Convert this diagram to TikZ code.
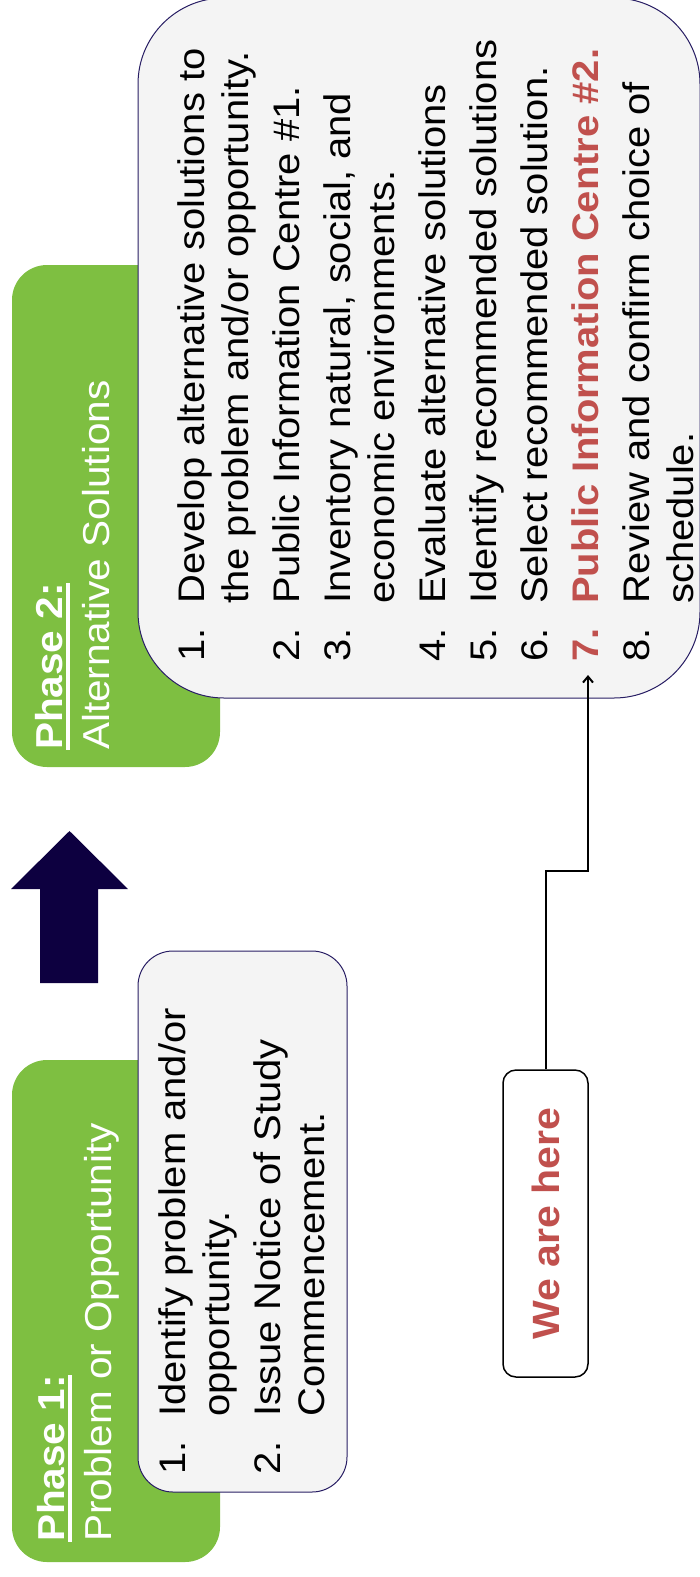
\documentclass[tikz,border=0pt]{standalone}
\usepackage{fontspec}
\setmainfont{Liberation Sans}[FakeStretch=1.08]
\usetikzlibrary{arrows.meta}
\definecolor{phasegreen}{RGB}{126,191,65}
\definecolor{boxline}{RGB}{40,30,100}
\definecolor{boxfill}{RGB}{244,244,244}
\definecolor{advnavy}{RGB}{13,0,64}
\definecolor{nowred}{RGB}{192,80,77}
\newlength{\itmw}\setlength{\itmw}{58pt}
\newcommand{\itm}[2]{\makebox[\itmw][l]{#1}#2}
\newcommand{\cont}[1]{\hspace*{\itmw}#1}
\newsavebox{\phbox}
\newcommand{\phaseul}[1]{\sbox{\phbox}{\bfseries #1}\rlap{\rule[-7.5pt]{\wd\phbox}{4pt}}\usebox{\phbox}}

\begin{document}
\begin{tikzpicture}[x=1pt, y=-1pt,
        phasebox/.style={fill=phasegreen, rounded corners=35pt, minimum width=208pt, minimum height=502pt, inner sep=0pt},
        listbox/.style={draw=boxline, line width=1pt, fill=boxfill, inner sep=0pt},
        phasetext/.style={rotate=90, anchor=north west, inner sep=0pt, align=left, text=white, font=\fontsize{37.5}{47}\selectfont},
        listtext/.style={rotate=90, anchor=north west, inner sep=0pt, align=left, font=\fontsize{37}{44}\selectfont},
        herebox/.style={draw, line width=1.5pt, fill=white, rounded corners=13pt, rotate=90, minimum width=307pt, minimum height=85pt, inner sep=0pt, text=nowred, font=\bfseries\fontsize{38}{44}\selectfont},
        pointer/.style={-{Straight Barb[length=6pt,width=10pt]}, line width=2pt}
    ]
        \useasboundingbox (0,0) rectangle (699,1577);

        % phase headers
        \node[phasebox] (ph1) at (116,1311) {};
        \node[phasebox] (ph2) at (116,516) {};

        % step lists
        \node[listbox, rounded corners=35pt, minimum width=209pt, minimum height=541pt] (list1) at (242.5,1221.5) {};
        \node[listbox, rounded corners=86pt, minimum width=562pt, minimum height=700pt] (list2) at (419,348) {};

        \node[phasetext] (ph1txt) at (37,1542) {\phaseul{Phase 1:}\\Problem or Opportunity};
        \node[phasetext] (ph2txt) at (35,750) {\phaseul{Phase 2:}\\Alternative Solutions};

        \node[listtext] (list1txt) at (158,1475) {
            \itm{1.}{Identify problem and/or}\\
            \cont{opportunity.}\\[7pt]
            \itm{2.}{Issue Notice of Study}\\
            \cont{Commencement.}
        };

        \node[listtext] (list2txt) at (177,662) {
            \itm{1.}{Develop alternative solutions to}\\
            \cont{the problem and/or opportunity.}\\[7pt]
            \itm{2.}{Public Information Centre \#1.}\\[7pt]
            \itm{3.}{Inventory natural, social, and}\\
            \cont{economic environments.}\\[7pt]
            \itm{4.}{Evaluate alternative solutions}\\[7pt]
            \itm{5.}{Identify recommended solutions}\\[7pt]
            \itm{6.}{Select recommended solution.}\\[7pt]
            {\color{nowred}\bfseries\itm{7.}{Public Information Centre \#2.}}\\[7pt]
            \itm{8.}{Review and confirm choice of}\\
            \cont{schedule.}
        };

        % block arrow between phases
        \fill[advnavy] (40,983) -- (40,889) -- (11,889) -- (69.5,831) -- (128,889) -- (98,889) -- (98,983) -- cycle;

        % current position marker
        \node[herebox] (here) at (545.5,1223.5) {We are here};
        \coordinate (item7) at (588,675);
        \draw[pointer] (here.east) -- ++(0,-198) -| (item7);
    \end{tikzpicture}
\end{document}
